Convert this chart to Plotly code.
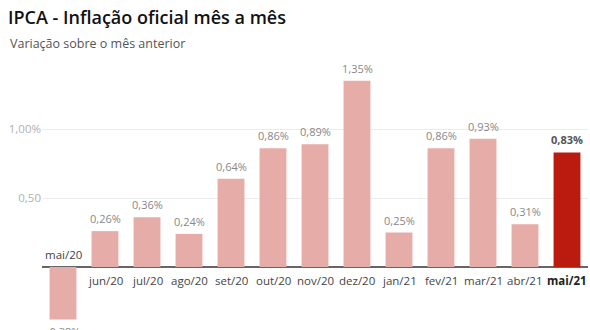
import plotly.graph_objects as go

# Monthly IPCA, May/2020 to May/2021
months = ["mai/20", "jun/20", "jul/20", "ago/20", "set/20", "out/20", "nov/20",
          "dez/20", "jan/21", "fev/21", "mar/21", "abr/21", "mai/21"]
values = [-0.38, 0.26, 0.36, 0.24, 0.64, 0.86, 0.89, 1.35, 0.25, 0.86, 0.93, 0.31, 0.83]
tick_vals = [0.5, 1.0]
tick_text = ["0,50", "1,00%"]

LIGHT = "#e6aca8"
DARK = "#bb1a0e"
FONT = "Open Sans"
W, H = 590, 330
L, R, T, B = 42, 2, 60, 0

last = len(months) - 1
colors = [DARK if i == last else LIGHT for i in range(len(months))]


def fmt(v):
    return f"{v:.2f}".replace(".", ",") + "%"


fig = go.Figure(go.Bar(
    x=months, y=values, marker=dict(color=colors, line=dict(width=0)),
    width=0.64, hoverinfo="skip",
))

annotations = []
for i, (m, v) in enumerate(zip(months, values)):
    is_last = i == last
    # value label above (or below) the bar
    annotations.append(dict(
        x=m, y=v, xref="x", yref="y", text=f"<b>{fmt(v)}</b>" if is_last else fmt(v),
        showarrow=False, yanchor="bottom" if v >= 0 else "top",
        yshift=3 if v >= 0 else -3,
        font=dict(family=FONT, size=11, color="#555" if is_last else "#888"),
    ))
    # month label next to the zero line, on the side opposite the bar
    annotations.append(dict(
        x=m, y=0, xref="x", yref="y", text=f"<b>{m}</b>" if is_last else m,
        showarrow=False, yanchor="top" if v >= 0 else "bottom",
        yshift=-4 if v >= 0 else 3,
        font=dict(family=FONT, size=11.5, color="#222" if is_last else "#444"),
    ))

# subtitle, positioned in pixels relative to the plot area
plot_w, plot_h = W - L - R, H - T - B
annotations.append(dict(
    text="Variação sobre o mês anterior", xref="paper", yref="paper",
    x=(8 - L) / plot_w, xanchor="left", y=1 + (T - 44) / plot_h, yanchor="middle",
    showarrow=False, font=dict(family=FONT, size=12.5, color="#555"),
))

fig.update_layout(
    width=W, height=H,
    margin=dict(l=L, r=R, t=T, b=B),
    paper_bgcolor="white", plot_bgcolor="white",
    showlegend=False,
    font=dict(family=FONT),
    title=dict(text="IPCA - Inflação oficial mês a mês", x=8 / W, xanchor="left",
               y=1 - 18 / H, yanchor="middle", xref="container", yref="container",
               font=dict(family=FONT, size=18, weight=600, color="#111")),
    xaxis=dict(showticklabels=False, showgrid=False, zeroline=False, showline=False,
               range=[-0.5, len(months) - 0.5], fixedrange=True),
    yaxis=dict(range=[-0.4565, 1.5], tickvals=tick_vals, ticktext=tick_text,
               showgrid=True, gridcolor="#ececec", gridwidth=1,
               zeroline=True, zerolinecolor="#666", zerolinewidth=2,
               tickfont=dict(family=FONT, size=11.5, color="#b0b0b0"),
               ticks="", showline=False, fixedrange=True),
    annotations=annotations,
)

fig.write_html("out.html")
